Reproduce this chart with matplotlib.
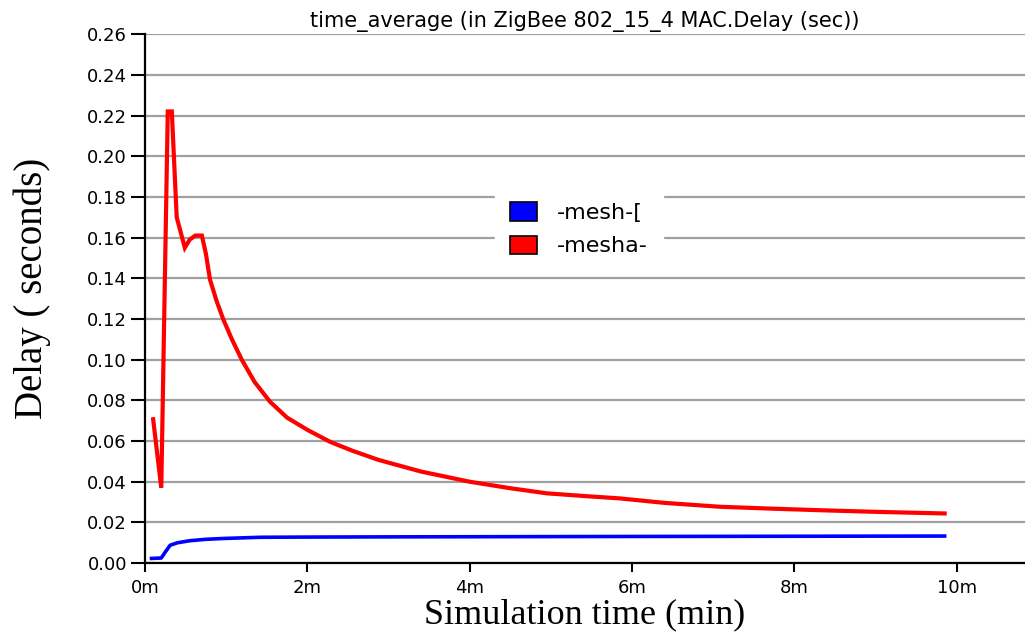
import matplotlib.pyplot as plt
from matplotlib.patches import Patch

# Data (time in minutes, delay in seconds)
red_t = [0.1, 0.2, 0.28, 0.33, 0.39, 0.49, 0.55, 0.62, 0.70, 0.75, 0.80, 0.88, 0.965, 1.07,
         1.19, 1.35, 1.54, 1.75, 2.0, 2.28, 2.55, 2.87, 3.4, 4.0, 4.5, 4.95, 5.4, 5.85,
         6.4, 7.08, 7.7, 8.31, 9.0, 9.85]
red_v = [0.0707, 0.037, 0.222, 0.222, 0.170, 0.155, 0.159, 0.161, 0.161, 0.152, 0.1394,
         0.129, 0.1197, 0.110, 0.1001, 0.089, 0.0793, 0.0715, 0.0655, 0.0596, 0.0553,
         0.0508, 0.0450, 0.0400, 0.0368, 0.0343, 0.0330, 0.0318, 0.0296, 0.0277, 0.0268,
         0.0260, 0.0252, 0.0244]

blue_t = [0.08, 0.2, 0.25, 0.31, 0.4, 0.55, 0.75, 0.96, 1.42, 2.0, 3.0, 4.5, 6.0, 8.0, 9.85]
blue_v = [0.0023, 0.0025, 0.0055, 0.0088, 0.0100, 0.0110, 0.0117, 0.0121, 0.0127, 0.0128,
          0.0129, 0.0130, 0.0131, 0.0132, 0.0133]

series_names = ["-mesh-[", "-mesha-"]
yticks = [i * 0.02 for i in range(14)]
xticks = [0, 2, 4, 6, 8, 10]
xtick_labels = ["0m", "2m", "4m", "6m", "8m", "10m"]

fig = plt.figure(figsize=(10.25, 6.32), dpi=100)
ax = fig.add_axes([0.1415, 0.109, 0.8585, 0.837])

ax.plot(red_t, red_v, color="#ff0000", lw=3, solid_joinstyle="miter")
ax.plot(blue_t, blue_v, color="#0000ff", lw=2.6)

ax.set_xlim(0, 10.84)
ax.set_ylim(0, 0.26)
ax.set_yticks(yticks)
ax.set_yticklabels(["%.2f" % v for v in yticks])
ax.set_xticks(xticks)
ax.set_xticklabels(xtick_labels)
ax.tick_params(labelsize=13, width=1.5, direction="out")
ax.tick_params(axis="y", length=10, pad=3)
ax.tick_params(axis="x", length=6.5, pad=5)
for lab in ax.get_xticklabels() + ax.get_yticklabels():
    lab.set_family("DejaVu Sans")

ax.grid(axis="y", color="#a0a0a0", lw=1.6)
ax.set_axisbelow(True)
for s in ["left", "bottom"]:
    ax.spines[s].set_linewidth(1.6)
ax.spines["right"].set_visible(False)
ax.spines["top"].set_visible(False)

ax.set_title("time_average (in ZigBee 802_15_4 MAC.Delay (sec))", fontsize=15,
             family="DejaVu Sans", pad=5)
ax.set_ylabel("Delay ( seconds)", fontsize=28, family="Liberation Serif")
ax.yaxis.set_label_coords(-0.107, 0.52)
ax.set_xlabel("Simulation time (min)", fontsize=26, family="Liberation Serif", labelpad=1)

handles = [Patch(facecolor="#0000ff", edgecolor="black", lw=1.2),
           Patch(facecolor="#ff0000", edgecolor="black", lw=1.2)]
leg = ax.legend(handles, series_names, loc="center", bbox_to_anchor=(0.565, 0.637),
                bbox_transform=fig.transFigure, frameon=True, fancybox=False,
                edgecolor="white", framealpha=1, prop={"family": "DejaVu Sans", "size": 16},
                handlelength=1.2, handleheight=0.9, handletextpad=0.9, labelspacing=0.55,
                borderpad=0.7)

fig.savefig("out.png", dpi=100)
